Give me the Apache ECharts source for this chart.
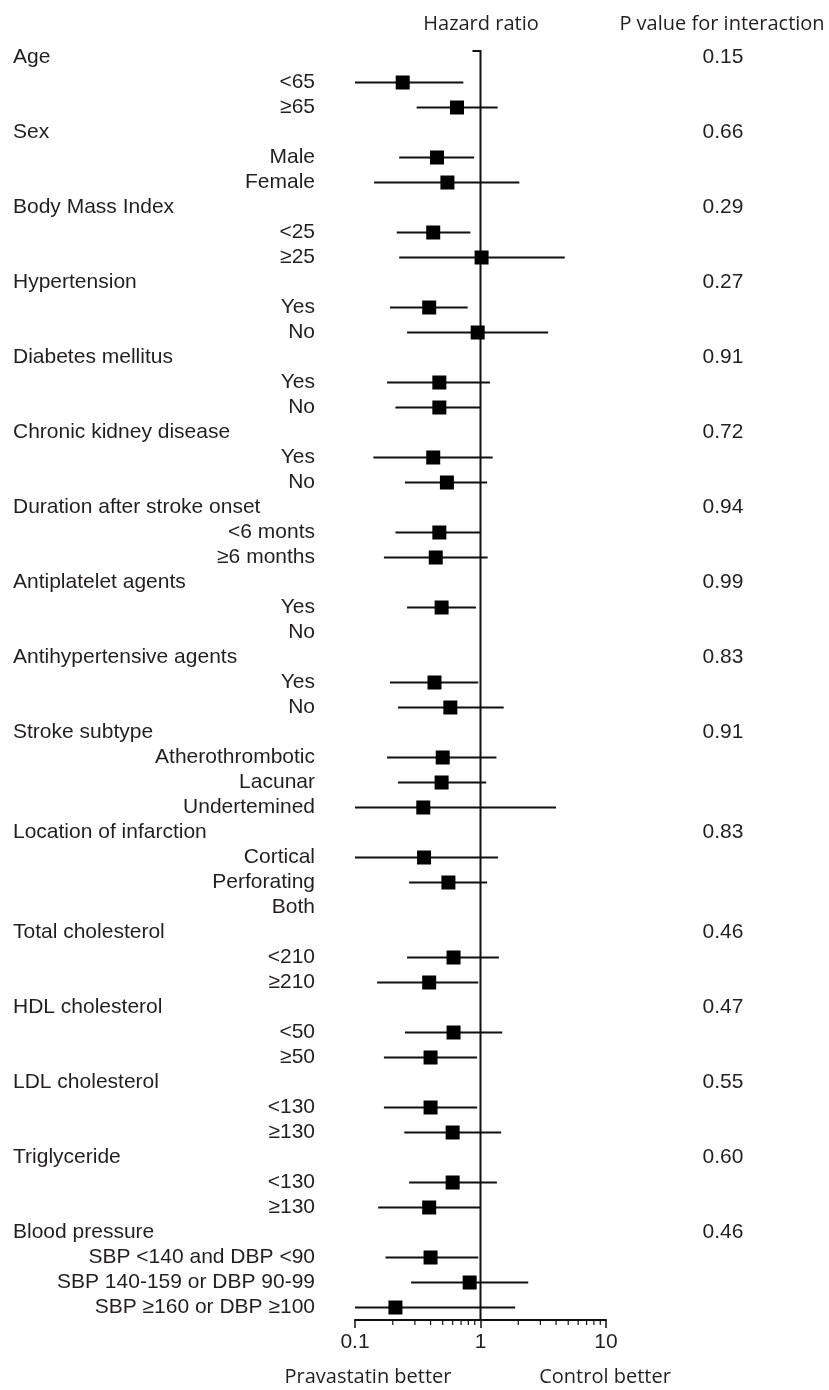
<!DOCTYPE html>
<html>
<head>
<meta charset="utf-8">
<script src="https://cdn.jsdelivr.net/npm/echarts@6/dist/echarts.min.js"></script>
<style>
  html, body { margin: 0; padding: 0; background: #fff; }
  #chart { width: 829px; height: 1390px; }
</style>
</head>
<body>
<div id="chart"></div>
<script>
// subgroup headings and p values for interaction
var groups = ['Age', 'Sex', 'Body Mass Index', 'Hypertension', 'Diabetes mellitus',
  'Chronic kidney disease', 'Duration after stroke onset', 'Antiplatelet agents',
  'Antihypertensive agents', 'Stroke subtype', 'Location of infarction',
  'Total cholesterol', 'HDL cholesterol', 'LDL cholesterol', 'Triglyceride', 'Blood pressure']
var pValues = ['0.15', '0.66', '0.29', '0.27', '0.91', '0.72', '0.94', '0.99',
  '0.83', '0.91', '0.83', '0.46', '0.47', '0.55', '0.60', '0.46']

var subLabels = [
  ['<65', '≥65'],
  ['Male', 'Female'],
  ['<25', '≥25'],
  ['Yes', 'No'],
  ['Yes', 'No'],
  ['Yes', 'No'],
  ['<6 monts', '≥6 months'],
  ['Yes', 'No'],
  ['Yes', 'No'],
  ['Atherothrombotic', 'Lacunar', 'Undertemined'],
  ['Cortical', 'Perforating', 'Both'],
  ['<210', '≥210'],
  ['<50', '≥50'],
  ['<130', '≥130'],
  ['<130', '≥130'],
  ['SBP <140 and DBP <90', 'SBP 140-159 or DBP 90-99', 'SBP ≥160 or DBP ≥100']
]

// hazard ratio, lower and upper 95% CI (null = not estimated)
var hr = [
  [0.24, 0.65], [0.45, 0.545], [0.42, 1.02], [0.39, 0.95], [0.47, 0.47],
  [0.42, 0.54], [0.47, 0.44], [0.49, null], [0.43, 0.575], [0.50, 0.49, 0.35],
  [0.355, 0.555, null], [0.61, 0.39], [0.61, 0.40], [0.40, 0.60], [0.60, 0.39],
  [0.40, 0.82, 0.21]
]
var lower = [
  [0.10, 0.31], [0.225, 0.142], [0.215, 0.225], [0.19, 0.26], [0.18, 0.21],
  [0.14, 0.25], [0.21, 0.17], [0.26, null], [0.19, 0.22], [0.18, 0.22, 0.10],
  [0.10, 0.27, null], [0.26, 0.15], [0.25, 0.17], [0.17, 0.247], [0.27, 0.153],
  [0.175, 0.28, 0.10]
]
var upper = [
  [0.73, 1.37], [0.89, 2.04], [0.83, 4.69], [0.79, 3.46], [1.19, 1.01],
  [1.25, 1.13], [1.01, 1.14], [0.92, null], [0.96, 1.53], [1.34, 1.11, 4.0],
  [1.38, 1.13, null], [1.40, 0.96], [1.49, 0.94], [0.94, 1.46], [1.35, 1.0],
  [0.96, 2.4, 1.89]
]

// minor ticks of the log axis
var minorTicks = [0.2, 0.3, 0.4, 0.5, 0.6, 0.7, 0.8, 0.9, 2, 3, 4, 5, 6, 7, 8, 9]

// build row list: heading row followed by its subgroups
var rows = []
var points = []
var bars = []
groups.forEach(function (g, gi) {
  rows.push({ group: g, sub: '', p: pValues[gi] })
  subLabels[gi].forEach(function (s, si) {
    var idx = rows.length
    rows.push({ group: '', sub: s, p: '' })
    if (hr[gi][si] != null) {
      points.push([hr[gi][si], idx])
      bars.push([lower[gi][si], upper[gi][si], idx])
    }
  })
})
var rowIds = rows.map(function (r, i) { return String(i) })

var txt = '#231f20'
var labelFont = 'Liberation Sans, Arial, sans-serif'
var headFont = '20px "Open Sans", sans-serif'

var chart = echarts.init(document.getElementById('chart'))

var yBase = {
  type: 'category',
  data: rowIds,
  inverse: true,
  axisLine: { show: false },
  axisTick: { show: false },
  splitLine: { show: false }
}

chart.setOption({
  animation: false,
  backgroundColor: '#fff',
  grid: { left: 355, right: 223, top: 45, bottom: 70, containLabel: false, outerBoundsMode: 'none' },
  xAxis: {
    type: 'log',
    logBase: 10,
    min: 0.1,
    max: 10,
    axisLine: { show: true, lineStyle: { color: '#111', width: 2 } },
    axisTick: { show: true, length: 8, lineStyle: { color: '#111', width: 1.5 } },
    axisLabel: {
      color: txt, fontSize: 21, fontFamily: labelFont, margin: 12,
      formatter: function (v) { return String(+v.toPrecision(3)) }
    },
    splitLine: { show: false }
  },
  yAxis: [
    Object.assign({}, yBase, {
      position: 'left',
      axisLabel: {
        margin: 40, align: 'right', color: txt, fontSize: 21, fontFamily: labelFont,
        interval: 0,
        formatter: function (v) { return rows[+v].sub }
      }
    }),
    Object.assign({}, yBase, {
      position: 'left',
      axisLabel: {
        margin: 342, align: 'left', color: txt, fontSize: 21, fontFamily: labelFont,
        interval: 0,
        formatter: function (v) { return rows[+v].group }
      }
    }),
    Object.assign({}, yBase, {
      position: 'right',
      axisLabel: {
        margin: 117, align: 'center', color: txt, fontSize: 21, fontFamily: labelFont,
        interval: 0,
        formatter: function (v) { return rows[+v].p }
      }
    })
  ],
  graphic: [
    { type: 'text', x: 481, y: 24, style: { text: 'Hazard ratio', font: headFont, fill: txt, align: 'center', verticalAlign: 'middle' } },
    { type: 'text', x: 722, y: 24, style: { text: 'P value for interaction', font: headFont, fill: txt, align: 'center', verticalAlign: 'middle' } },
    { type: 'text', x: 368, y: 1377, style: { text: 'Pravastatin better', font: headFont, fill: txt, align: 'center', verticalAlign: 'middle' } },
    { type: 'text', x: 605, y: 1377, style: { text: 'Control better', font: headFont, fill: txt, align: 'center', verticalAlign: 'middle' } }
  ],
  series: [
    {
      // reference line at HR = 1
      type: 'custom',
      xAxisIndex: 0,
      yAxisIndex: 0,
      data: [[1, 0]],
      silent: true,
      z: 3,
      renderItem: function (params, api) {
        var cs = params.coordSys
        var x = api.coord([1, 0])[0]
        var top = cs.y + 6
        return {
          type: 'polyline',
          shape: { points: [[x - 8, top], [x, top], [x, cs.y + cs.height]] },
          style: { stroke: '#111', lineWidth: 2, fill: null }
        }
      }
    },
    {
      // minor ticks
      type: 'custom',
      data: minorTicks.map(function (v) { return [v, 0] }),
      silent: true,
      z: 3,
      renderItem: function (params, api) {
        var cs = params.coordSys
        var x = api.coord([api.value(0), 0])[0]
        var y0 = cs.y + cs.height
        return {
          type: 'line',
          shape: { x1: x, y1: y0, x2: x, y2: y0 + 5 },
          style: { stroke: '#111', lineWidth: 1.2 }
        }
      }
    },
    {
      // confidence intervals
      type: 'custom',
      data: bars,
      encode: { x: [0, 1], y: 2 },
      silent: true,
      z: 4,
      renderItem: function (params, api) {
        var a = api.coord([api.value(0), api.value(2)])
        var b = api.coord([api.value(1), api.value(2)])
        return {
          type: 'line',
          shape: { x1: a[0], y1: a[1], x2: b[0], y2: b[1] },
          style: { stroke: '#111', lineWidth: 2 }
        }
      }
    },
    {
      type: 'scatter',
      data: points,
      symbol: 'rect',
      symbolSize: 14,
      itemStyle: { color: '#000', opacity: 1 },
      silent: true,
      z: 5
    }
  ]
})
</script>
</body>
</html>
